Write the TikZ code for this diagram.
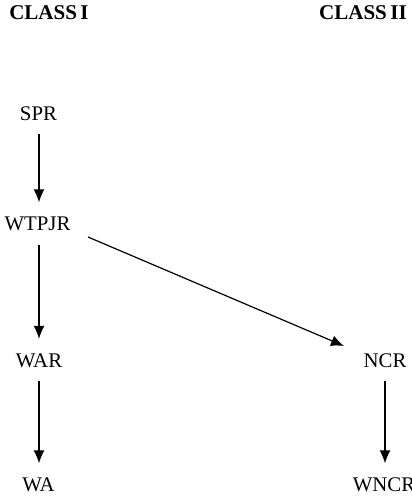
\documentclass[tikz,border=0pt]{standalone}
\usepackage{fontspec}
\setmainfont{Liberation Serif}
\usetikzlibrary{arrows.meta}
\begin{document}
\begin{tikzpicture}[x=1pt,y=-1pt,
  lbl/.style={font=\fontsize{20.8}{24}\selectfont, text height=14pt, text depth=0pt, inner xsep=2pt, inner ysep=14pt},
  head/.style={font=\fontsize{21}{24}\selectfont\bfseries, text height=14pt, text depth=0pt, inner sep=0pt},
  arr/.style={line width=1.2pt, -{Latex[length=13pt,width=11pt]}}]
\useasboundingbox (0,0) rectangle (412,499);
\node[head] (c1) at (49,12.5) {CLASS\,I};
\node[head] (c2) at (363,12.5) {CLASS\,II};
\node[lbl] (spr) at (38.5,113) {SPR};
\node[lbl] (wtpjr) at (37.5,223.5) {WTPJR};
\node[lbl] (war) at (39,360) {WAR};
\node[lbl] (wa) at (38.5,484.5) {WA};
\node[lbl] (ncr) at (385,360) {NCR};
\node[lbl] (wncr) at (384,484.5) {WNCR};
\draw[arr] (spr.south -| 39,0) -- (wtpjr.north -| 39,0);
\draw[arr] (wtpjr.south -| 39,0) -- (war.north -| 39,0);
\draw[arr] (war.south -| 39,0) -- (wa.north -| 39,0);
\draw[arr] (ncr.south -| 385,0) -- (wncr.north -| 385,0);
\draw[arr] ([shift={(50.5,13.5)}]wtpjr.center) -- ([shift={(-41,-14)}]ncr.center);
\end{tikzpicture}
\end{document}
